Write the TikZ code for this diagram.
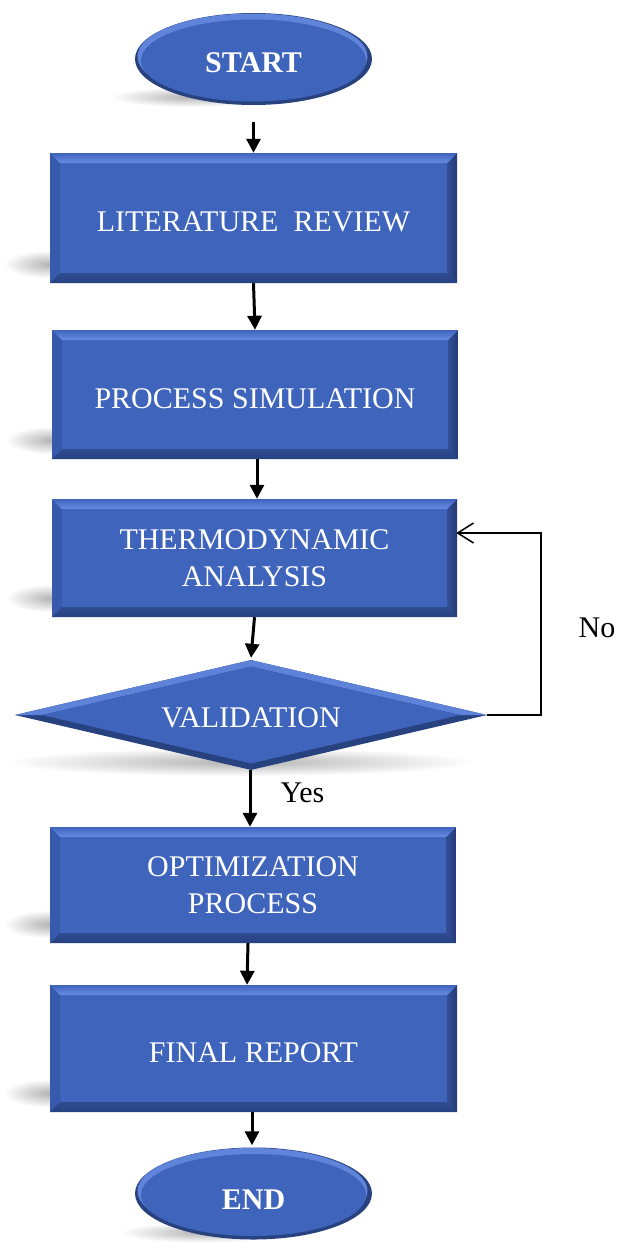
\documentclass[tikz,border=0pt]{standalone}
\usepackage{fontspec}
\setmainfont{Liberation Serif}
\usetikzlibrary{arrows.meta,shapes.geometric}
\definecolor{boxblue}{RGB}{63,100,188}
\definecolor{bevlight}{RGB}{104,140,226}
\definecolor{bevdark}{RGB}{40,66,128}
\definecolor{bevright}{RGB}{36,58,116}
\definecolor{bevleft}{RGB}{56,90,172}
\pgfdeclarelayer{bg}
\pgfsetlayers{bg,main}
\pgfdeclareradialshading{blob}{\pgfpointorigin}{color(0bp)=(black!30); color(10bp)=(black!18); color(25bp)=(white); color(50bp)=(white)}
\tikzset{
  stepbox/.style={rectangle, fill=boxblue, inner sep=0pt, text=white, align=center,
    font=\fontsize{30}{37}\selectfont,
    path picture={
      \fill[bevleft] (path picture bounding box.north west) -- (path picture bounding box.south west)
        -- ([shift={(10pt,10pt)}]path picture bounding box.south west)
        -- ([shift={(10pt,-10pt)}]path picture bounding box.north west) -- cycle;
      \shade[left color=bevdark!60!boxblue, right color=bevright] (path picture bounding box.north east) -- (path picture bounding box.south east)
        -- ([shift={(-10pt,10pt)}]path picture bounding box.south east)
        -- ([shift={(-10pt,-10pt)}]path picture bounding box.north east) -- cycle;
      \shade[top color=boxblue, bottom color=bevlight] (path picture bounding box.north west) -- (path picture bounding box.north east)
        -- ([shift={(-10pt,-10pt)}]path picture bounding box.north east)
        -- ([shift={(10pt,-10pt)}]path picture bounding box.north west) -- cycle;
      \shade[top color=bevdark!70!boxblue, bottom color=bevdark] (path picture bounding box.south west) -- (path picture bounding box.south east)
        -- ([shift={(-10pt,10pt)}]path picture bounding box.south east)
        -- ([shift={(10pt,10pt)}]path picture bounding box.south west) -- cycle;
    }},
  terminal/.style={ellipse, fill=bevdark, minimum width=237pt, minimum height=92pt, inner sep=0pt,
    text=white, font=\fontsize{30}{36}\selectfont\bfseries,
    path picture={
      \fill[bevlight!80!boxblue] ([shift={(-1pt,2.5pt)}]path picture bounding box.center) ellipse [x radius=115pt, y radius=43pt];
      \fill[boxblue] ([shift={(0pt,-1.5pt)}]path picture bounding box.center) ellipse [x radius=112.5pt, y radius=41pt];
    }},
  decision/.style={diamond, fill=bevdark, minimum width=472pt, minimum height=110pt, aspect=4.29, inner sep=0pt,
    text=white, font=\fontsize{30}{36}\selectfont,
    path picture={
      \fill[bevlight!75!boxblue] (path picture bounding box.west) -- (path picture bounding box.north) -- (path picture bounding box.east)
        -- ([xshift=-27pt]path picture bounding box.east) -- ([yshift=-6.5pt]path picture bounding box.north)
        -- ([xshift=27pt]path picture bounding box.west) -- cycle;
      \fill[boxblue] ([xshift=27pt]path picture bounding box.west) -- ([yshift=-6.5pt]path picture bounding box.north)
        -- ([xshift=-27pt]path picture bounding box.east) -- ([yshift=6.5pt]path picture bounding box.south) -- cycle;
    }},
  arr/.style={-{Triangle[width=14pt,length=14pt]}, line width=3pt},
  fb/.style={-{Straight Barb[length=16pt,width=20pt]}, line width=1.5pt},
  lbl/.style={font=\fontsize{30}{36}\selectfont, text=black},
  shadowblob/.style={shading=blob}
}
\begin{document}
\begin{tikzpicture}[x=1pt,y=-1pt]
\useasboundingbox (0,0) rectangle (620,1242);
\clip (0,0) rectangle (620,1242);

\node[terminal, text height=26pt, text depth=0pt] (start) at (253.5,59) {START};
\node[stepbox, text height=27pt, text depth=0pt, minimum width=407pt, minimum height=130pt] (lit) at (253.5,218) {LITERATURE\ \ REVIEW};
\node[stepbox, text height=27pt, text depth=0pt, minimum width=406pt, minimum height=129pt] (proc) at (255,394.5) {PROCESS SIMULATION};
\node[stepbox, minimum width=405pt, minimum height=118pt] (thermo) at (254.5,558) {THERMODYNAMIC\\ANALYSIS};
\node[decision, text height=24pt, text depth=0pt] (val) at (251,715) {VALIDATION};
\node[stepbox, minimum width=406pt, minimum height=116pt] (opt) at (253,885) {OPTIMIZATION\\PROCESS};
\node[stepbox, text height=27pt, text depth=0pt, minimum width=407pt, minimum height=127pt] (final) at (253.5,1048.5) {FINAL REPORT};
\node[terminal, text height=31pt, text depth=0pt] (end) at (253.5,1193.5) {END};

\node[lbl] (no) at (597,628) {No};
\node[lbl] (yes) at (302.5,793) {Yes};

\draw[arr] ([yshift=-17pt]start.south) -- (lit.north);
\draw[arr] (lit.south) -- (proc.north);
\draw[arr] ([xshift=2pt]proc.south) -- ([xshift=2.5pt]thermo.north);
\draw[arr] (thermo.south) -- ([yshift=2pt]val.north);
\draw[arr] ([xshift=-1pt]val.south) -- ([xshift=-3pt]opt.north);
\draw[arr] ([xshift=-5pt]opt.south) -- ([xshift=-6.5pt]final.north);
\draw[arr] ([xshift=-1.5pt]final.south) -- ([xshift=-1.5pt,yshift=2pt]end.north);
\draw[fb] (val.east) -- ++(54pt,0pt) coordinate (fbc) |- ([xshift=-1pt,yshift=25pt]thermo.east);

\begin{pgfonlayer}{bg}
\fill[white] (0,0) rectangle (620,1242);
\foreach \b in {lit,proc,thermo,opt,final}{
  \shade[shadowblob] ([shift={(0pt,19pt)}]\b.south west) ellipse [x radius=46pt, y radius=14pt];
}
\shade[shadowblob] ([shift={(-63pt,-38pt)}]start.center) ellipse [x radius=80pt, y radius=10pt];
\shade[shadowblob] ([shift={(-53pt,-39pt)}]end.center) ellipse [x radius=80pt, y radius=10pt];
\shade[shadowblob] ([shift={(-11pt,-47pt)}]val.center) ellipse [x radius=235pt, y radius=14pt];
\end{pgfonlayer}
\end{tikzpicture}
\end{document}
